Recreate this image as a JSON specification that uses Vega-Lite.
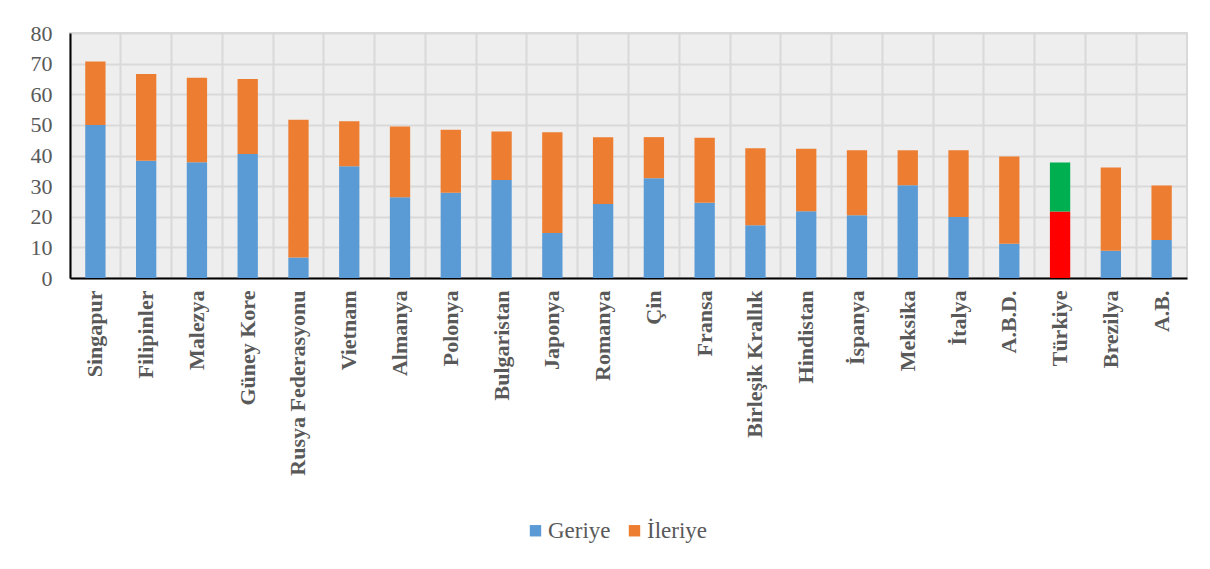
{
  "$schema": "https://vega.github.io/schema/vega-lite/v6.json",
  "width": 1117,
  "height": 245,
  "autosize": {"type": "none"},
  "padding": {"left": 70, "top": 33, "right": 23, "bottom": 291},
  "background": "white",
  "config": {
    "font": "Times New Roman, Liberation Serif, DejaVu Serif, serif",
    "view": {"fill": "#eeeeee", "stroke": "#d9d9d9", "strokeWidth": 2}
  },
  "data": {
    "values": [
      {"ulke": "Singapur", "tur": "Geriye", "renk": "Geriye", "sira": 1, "deger": 50.0},
      {"ulke": "Singapur", "tur": "İleriye", "renk": "İleriye", "sira": 2, "deger": 20.7},
      {"ulke": "Filipinler", "tur": "Geriye", "renk": "Geriye", "sira": 1, "deger": 38.3},
      {"ulke": "Filipinler", "tur": "İleriye", "renk": "İleriye", "sira": 2, "deger": 28.3},
      {"ulke": "Malezya", "tur": "Geriye", "renk": "Geriye", "sira": 1, "deger": 37.8},
      {"ulke": "Malezya", "tur": "İleriye", "renk": "İleriye", "sira": 2, "deger": 27.6},
      {"ulke": "Güney Kore", "tur": "Geriye", "renk": "Geriye", "sira": 1, "deger": 40.5},
      {"ulke": "Güney Kore", "tur": "İleriye", "renk": "İleriye", "sira": 2, "deger": 24.5},
      {"ulke": "Rusya Federasyonu", "tur": "Geriye", "renk": "Geriye", "sira": 1, "deger": 6.7},
      {"ulke": "Rusya Federasyonu", "tur": "İleriye", "renk": "İleriye", "sira": 2, "deger": 45.0},
      {"ulke": "Vietnam", "tur": "Geriye", "renk": "Geriye", "sira": 1, "deger": 36.5},
      {"ulke": "Vietnam", "tur": "İleriye", "renk": "İleriye", "sira": 2, "deger": 14.7},
      {"ulke": "Almanya", "tur": "Geriye", "renk": "Geriye", "sira": 1, "deger": 26.4},
      {"ulke": "Almanya", "tur": "İleriye", "renk": "İleriye", "sira": 2, "deger": 23.1},
      {"ulke": "Polonya", "tur": "Geriye", "renk": "Geriye", "sira": 1, "deger": 27.8},
      {"ulke": "Polonya", "tur": "İleriye", "renk": "İleriye", "sira": 2, "deger": 20.6},
      {"ulke": "Bulgaristan", "tur": "Geriye", "renk": "Geriye", "sira": 1, "deger": 32.0},
      {"ulke": "Bulgaristan", "tur": "İleriye", "renk": "İleriye", "sira": 2, "deger": 15.8},
      {"ulke": "Japonya", "tur": "Geriye", "renk": "Geriye", "sira": 1, "deger": 14.7},
      {"ulke": "Japonya", "tur": "İleriye", "renk": "İleriye", "sira": 2, "deger": 32.9},
      {"ulke": "Romanya", "tur": "Geriye", "renk": "Geriye", "sira": 1, "deger": 24.2},
      {"ulke": "Romanya", "tur": "İleriye", "renk": "İleriye", "sira": 2, "deger": 21.8},
      {"ulke": "Çin", "tur": "Geriye", "renk": "Geriye", "sira": 1, "deger": 32.6},
      {"ulke": "Çin", "tur": "İleriye", "renk": "İleriye", "sira": 2, "deger": 13.4},
      {"ulke": "Fransa", "tur": "Geriye", "renk": "Geriye", "sira": 1, "deger": 24.6},
      {"ulke": "Fransa", "tur": "İleriye", "renk": "İleriye", "sira": 2, "deger": 21.2},
      {"ulke": "Birleşik Krallık", "tur": "Geriye", "renk": "Geriye", "sira": 1, "deger": 17.2},
      {"ulke": "Birleşik Krallık", "tur": "İleriye", "renk": "İleriye", "sira": 2, "deger": 25.2},
      {"ulke": "Hindistan", "tur": "Geriye", "renk": "Geriye", "sira": 1, "deger": 21.8},
      {"ulke": "Hindistan", "tur": "İleriye", "renk": "İleriye", "sira": 2, "deger": 20.4},
      {"ulke": "İspanya", "tur": "Geriye", "renk": "Geriye", "sira": 1, "deger": 20.5},
      {"ulke": "İspanya", "tur": "İleriye", "renk": "İleriye", "sira": 2, "deger": 21.2},
      {"ulke": "Meksika", "tur": "Geriye", "renk": "Geriye", "sira": 1, "deger": 30.3},
      {"ulke": "Meksika", "tur": "İleriye", "renk": "İleriye", "sira": 2, "deger": 11.4},
      {"ulke": "İtalya", "tur": "Geriye", "renk": "Geriye", "sira": 1, "deger": 19.9},
      {"ulke": "İtalya", "tur": "İleriye", "renk": "İleriye", "sira": 2, "deger": 21.8},
      {"ulke": "A.B.D.", "tur": "Geriye", "renk": "Geriye", "sira": 1, "deger": 11.2},
      {"ulke": "A.B.D.", "tur": "İleriye", "renk": "İleriye", "sira": 2, "deger": 28.5},
      {"ulke": "Türkiye", "tur": "Geriye", "renk": "Türkiye Geriye", "sira": 1, "deger": 21.7},
      {"ulke": "Türkiye", "tur": "İleriye", "renk": "Türkiye İleriye", "sira": 2, "deger": 16.0},
      {"ulke": "Brezilya", "tur": "Geriye", "renk": "Geriye", "sira": 1, "deger": 8.9},
      {"ulke": "Brezilya", "tur": "İleriye", "renk": "İleriye", "sira": 2, "deger": 27.2},
      {"ulke": "A.B.", "tur": "Geriye", "renk": "Geriye", "sira": 1, "deger": 12.4},
      {"ulke": "A.B.", "tur": "İleriye", "renk": "İleriye", "sira": 2, "deger": 17.8}
    ]
  },
  "mark": {"type": "bar", "width": {"band": 0.4}},
  "encoding": {
    "x": {
      "field": "ulke",
      "type": "nominal",
      "sort": null,
      "title": null,
      "scale": {"paddingInner": 0, "paddingOuter": 0},
      "axis": {
        "labelAngle": -90,
        "labelFont": "Times New Roman, Liberation Serif, DejaVu Serif, serif",
        "labelFontWeight": "bold",
        "labelFontSize": 22,
        "labelColor": "#595959",
        "labelPadding": 12,
        "labelLimit": 400,
        "ticks": false,
        "domainColor": "#000000",
        "domainWidth": 2,
        "grid": true,
        "gridColor": "#d9d9d9",
        "gridWidth": 2,
        "bandPosition": 0
      }
    },
    "y": {
      "field": "deger",
      "type": "quantitative",
      "stack": "zero",
      "title": null,
      "scale": {"domain": [0, 80]},
      "axis": {
        "values": [0, 10, 20, 30, 40, 50, 60, 70, 80],
        "labelFont": "Times New Roman, Liberation Serif, DejaVu Serif, serif",
        "labelFontSize": 22,
        "labelColor": "#595959",
        "labelPadding": 18,
        "ticks": false,
        "domainColor": "#000000",
        "domainWidth": 2,
        "gridColor": "#d9d9d9",
        "gridWidth": 2
      }
    },
    "order": {"field": "sira", "type": "quantitative"},
    "color": {
      "field": "renk",
      "type": "nominal",
      "scale": {
        "domain": ["Geriye", "İleriye", "Türkiye Geriye", "Türkiye İleriye"],
        "range": ["#5b9bd5", "#ed7d31", "#ff0000", "#00b050"]
      },
      "legend": {
        "values": ["Geriye", "İleriye"],
        "title": null,
        "orient": "none",
        "direction": "horizontal",
        "legendX": 454,
        "legendY": 486,
        "symbolType": "square",
        "symbolSize": 130,
        "symbolStrokeWidth": 0,
        "symbolOpacity": 1,
        "labelFont": "Times New Roman, Liberation Serif, DejaVu Serif, serif",
        "labelFontSize": 23,
        "labelColor": "#595959",
        "labelOffset": 1,
        "columnPadding": 12
      }
    }
  }
}
